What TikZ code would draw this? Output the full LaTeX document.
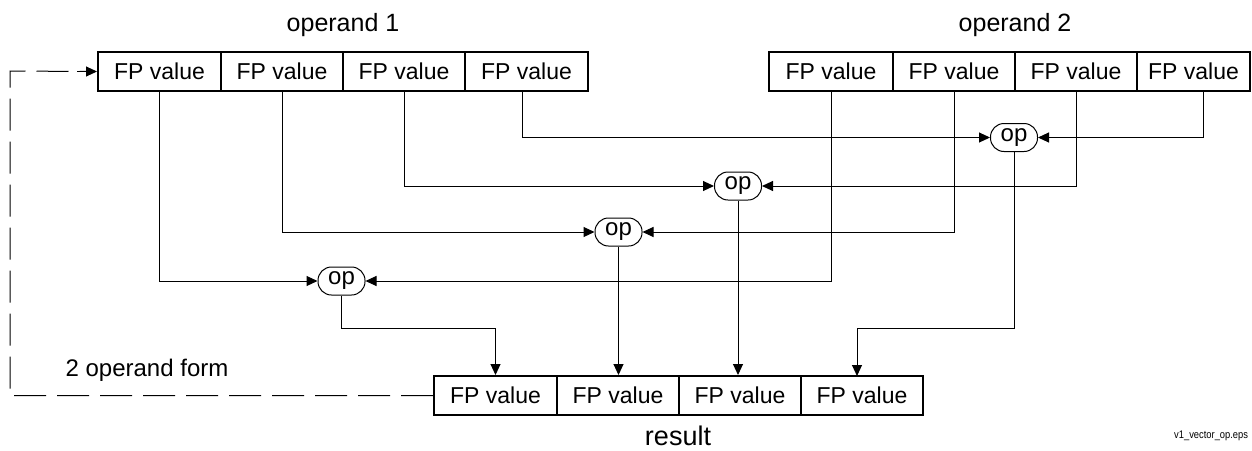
\documentclass[tikz,border=0pt]{standalone}
\usepackage{fontspec}
\setmainfont{Liberation Sans}
\usetikzlibrary{arrows.meta,calc}
\begin{document}
\begin{tikzpicture}[x=1pt,y=-1pt,
  cell/.style={draw,line width=2pt,minimum height=39pt,inner sep=0pt,font=\fontsize{23}{27}\selectfont},
  opnode/.style={draw,line width=1pt,rounded corners=13.5pt,minimum width=47pt,minimum height=28pt,inner sep=0pt,font=\fontsize{24}{28}\selectfont},
  conn/.style={line width=1pt,-{Triangle[length=11pt,width=10pt]}},
  loopline/.style={line width=1pt,dash pattern=on 32pt off 11pt},
  lbl/.style={font=\fontsize{25}{30}\selectfont,inner sep=0pt}]
\useasboundingbox (0,0) rectangle (1252,450);
% operand 1
\node[cell,minimum width=123pt] (a1) at (159.5,71.5) {FP value};
\node[cell,minimum width=122pt] (a2) at (282,71.5) {FP value};
\node[cell,minimum width=122pt] (a3) at (404,71.5) {FP value};
\node[cell,minimum width=123pt] (a4) at (526.5,71.5) {FP value};
% operand 2
\node[cell,minimum width=124pt] (b1) at (831,71.5) {FP value};
\node[cell,minimum width=122pt] (b2) at (954,71.5) {FP value};
\node[cell,minimum width=122pt] (b3) at (1076,71.5) {FP value};
\node[cell,minimum width=113pt] (b4) at (1193.5,71.5) {FP value};
% result
\node[cell,minimum width=123pt] (r1) at (495.5,395.5) {FP value};
\node[cell,minimum width=122pt] (r2) at (618,395.5) {FP value};
\node[cell,minimum width=122pt] (r3) at (740,395.5) {FP value};
\node[cell,minimum width=122pt] (r4) at (862,395.5) {FP value};
% labels
\node[lbl] (l1) at (343,25) {operand 1};
\node[lbl] (l2) at (1015,25) {operand 2};
\node[lbl,font=\fontsize{27}{32}\selectfont] (l3) at (678,436) {result};
\node[lbl,font=\fontsize{24}{29}\selectfont] (l4) at (147,370) {2 operand form};
\node[anchor=west,inner sep=0pt,font=\fontsize{11}{13}\selectfont] (fn) at (1174,436) {\addfontfeatures{FakeStretch=0.85}v1\_vector\_op.eps};
% op nodes
\node[opnode] (op1) at (1014,137.5) {op};
\node[opnode] (op2) at (738,186) {op};
\node[opnode] (op3) at (618.5,232) {op};
\node[opnode] (op4) at (341.5,281) {op};
% inputs
\coordinate (a4o) at (522,91);
\coordinate (b4o) at (1203,91);
\draw[conn] (a4o) |- (op1.west);
\draw[conn] (b4o) |- (op1.east);
\draw[conn] (a3.south) |- (op2.west);
\draw[conn] (b3.south) |- (op2.east);
\draw[conn] (a2.south) |- (op3.west);
\draw[conn] (b2.south) |- (op3.east);
\draw[conn] (a1.south) |- (op4.west);
\draw[conn] (b1.south) |- (op4.east);
% outputs
\coordinate (r4in) at (857,376);
\draw[conn] (op4.south) -- (op4.south |- 0,328) -| (r1.north);
\draw[conn] (op3.south) -- (op3.south |- r2.north);
\draw[conn] (op2.south) -- (op2.south |- r3.north);
\draw[conn] (op1.south) -- (op1.south |- 0,328) -| (r4in);
% loop
\coordinate (lb) at (10,395.5);
\coordinate (lt) at (10,71);
\draw[loopline] (r1.west) -- (lb) -- (lt) -- ($(a1.west)+(-10,0)$);
\draw[conn] ($(a1.west)+(-20,0)$) -- (a1.west);
\end{tikzpicture}
\end{document}
